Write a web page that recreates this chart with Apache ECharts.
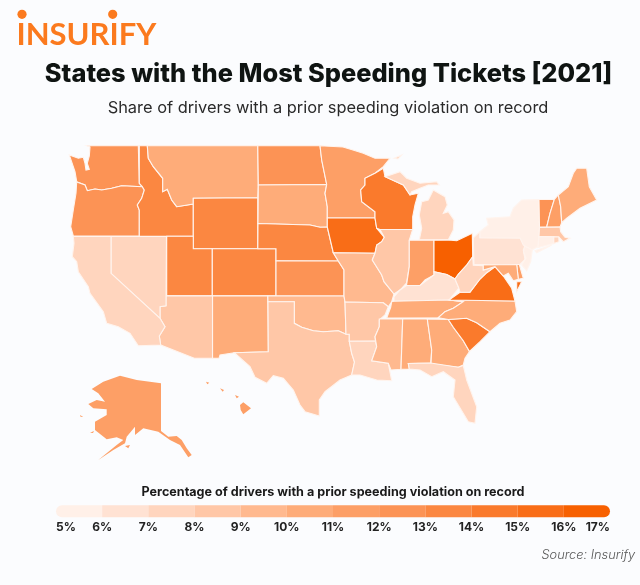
<!DOCTYPE html>
<html><head><meta charset="utf-8">
<style>html,body{margin:0;padding:0;background:#fbfcfe}#c{width:640px;height:585px}</style>
<script src="https://cdn.jsdelivr.net/npm/echarts@6/dist/echarts.min.js"></script>
</head><body><div id="c"></div>
<script>
const stateCodes = ['WA','OR','ID','MT','WY','UT','CO','NM','AZ','NV','CA','ND','SD','NE','KS','OK','TX','MN','IA','MO','AR','LA','WI','IL','MI','IN','OH','KY','TN','MS','AL','GA','FL','SC','NC','VA','WV','PA','NY','VT','NH','ME','MA','CT','RI','NJ','DE','MD','AK','HI'];
const stateValues = [12.5,12.5,13.5,10.5,13.5,13.5,13.5,10.5,8.5,7.5,7.5,12.5,10.5,13.5,12.5,9.5,8.5,11.5,15.5,9.5,8.5,7.5,14.5,8.5,7.5,11.5,16.5,6.5,10.5,9.5,10.5,10.5,7.5,14.5,10.5,15.5,7.5,6.5,5.5,12.5,11.5,10.5,8.5,5.5,7.5,5.5,11.5,10.5,11.5,11.5];
const legendTicks = [5,6,7,8,9,10,11,12,13,14,15,16,17];
const binColors = ['#fff0e8','#ffe2d3','#ffd5be','#ffc7a7','#ffb98f','#feac79','#fd9f66','#fc9355','#fb8741','#fa7a2c','#f96d17','#f76000'];
const borderlessStates = ['AK','HI'];

// state outlines, in map units
const stateShapes = {
WA:[[[86.7,145.7],[138.3,145.7],[139.3,183.3],[142.3,186.7],[121.7,185.7],[111.7,188.3],[101.7,190],[95,189],[87.3,190.7],[85,185],[76.7,181.7],[75,171.7],[69.3,155],[78.3,158.3],[83.3,157.3],[85,163.3],[86,170],[89.3,169.3],[87.3,163.3],[89.3,156],[90,147]]],
OR:[[[76.7,182],[85,185],[87.3,190.7],[95,189],[101.7,190],[111.7,188.3],[121.7,185.7],[142.3,186.7],[144.3,190],[141.7,198.3],[137.3,205],[139.3,210],[139.3,236],[73.3,236],[70.7,226.7],[73.3,210],[76,193.3]]],
ID:[[[139.3,145.7],[147.3,145.7],[148.3,158.3],[153.3,166.7],[162.7,178.3],[162.7,191.7],[167.3,189.3],[171.7,200],[176.7,206.7],[193.3,204],[193.3,236.3],[139.3,236.3],[139.3,210],[137.3,205],[141.7,198.3],[144.3,190],[142.3,186.7],[139.3,183.3]]],
MT:[[[147.3,145.7],[257.8,145.7],[258.3,185],[257.8,197.8],[193.3,198.3],[193.3,204],[176.7,206.7],[171.7,200],[167.3,189.3],[162.7,191.7],[162.7,178.3],[153.3,166.7],[148.3,158.3]]],
WY:[[[193.3,198.3],[257.8,197.8],[257.8,248.7],[193.3,248.7]]],
UT:[[[166.7,236.3],[193.3,236.3],[193.3,248.7],[212.3,248.7],[212.3,295.7],[166.7,295.7]]],
CO:[[[212.3,248.7],[276,248.7],[276,295.7],[212.3,295.7]]],
NM:[[[212.5,296],[267.8,296],[268.3,351.7],[234.3,352.7],[220,355],[219,358.3],[212.5,358.3]]],
AZ:[[[166,295.7],[212.5,296],[212.5,358.3],[194.3,358.3],[160.7,345],[159.3,336],[165,326.7],[160,318.3],[160,306.7],[166,305.7]]],
NV:[[[111,236.5],[166.5,236.5],[166,305.7],[160,306.7],[160,318.3],[111,273.3]]],
CA:[[[73.3,236.5],[111,236.5],[111,273.3],[160,318.3],[165,326.7],[159.3,336],[160.7,345],[138.3,345.7],[130,333.3],[118.3,326.7],[106.7,323.3],[103.3,311.7],[90,293.3],[88.3,286.7],[78.3,271.7],[76.7,261.7],[72.3,256.7],[74,243.3]]],
ND:[[[257.8,145.7],[320,145.7],[321.7,160],[326.7,184.5],[258.3,185]]],
SD:[[[258.3,185],[326.7,184.5],[325,193.3],[327.3,206.7],[327.3,227],[320,227.3],[310,225],[258,223.5]]],
NE:[[[258,223.5],[310,225],[320,227.3],[327.3,227],[333.3,252.7],[338.3,261],[276,260.7],[276,248.7],[257.8,248.7]]],
KS:[[[276,260.7],[338.3,261],[344,270],[344,296],[276,295.7]]],
OK:[[[267.8,296],[344,296],[345,302],[346,334.3],[338.3,330.7],[323.3,331.7],[313.3,330.7],[301.7,327.3],[294.3,323.3],[294.3,301.7],[268,301.7]]],
TX:[[[268,301.7],[294.3,301.7],[294.3,323.3],[301.7,327.3],[313.3,330.7],[323.3,331.7],[338.3,330.7],[346,334.3],[349.3,334.3],[349.3,341.3],[351.7,353.3],[354.5,362],[351.7,375],[340,380],[325,391.7],[319.3,400],[319.3,416],[305,411.7],[300,405],[293.3,390],[283.3,378.3],[273.3,375.7],[266.7,383.3],[255,377.3],[250,366.7],[234.3,352.7],[268.3,351.7]]],
MN:[[[320,145.7],[343,147],[353,150],[363.3,153.3],[375,158.3],[390,158.3],[383.3,166.7],[375,173.3],[365,178.3],[365,185],[360.7,190],[361.7,201.7],[375,211.7],[375,218],[327.3,218],[327.3,206.7],[325,193.3],[326.7,184.5],[321.7,160]]],
IA:[[[327.3,218],[375,218],[376.7,228.3],[384.3,237.3],[381.7,241.7],[376.7,245],[375,253.3],[333.3,252.7],[327.3,227]]],
MO:[[[333.3,252.7],[375,253.3],[372.3,260],[381.7,275],[384,281.7],[394,294],[391.7,301.7],[388.3,306.7],[383.3,302.7],[345,302],[344,296],[344,270],[338.3,261]]],
AR:[[[345,302],[383.3,302.7],[388.3,306.7],[385,315],[379.3,320],[379.3,326.7],[375,336.7],[375.5,341],[349.3,341.3],[349.3,334.3],[346,334.3]]],
LA:[[[349.3,341.3],[375.5,341],[376.7,346.7],[371.7,360.7],[388.3,363.3],[391.7,380.7],[376.7,380],[360,375],[351.7,375],[354.5,362],[351.7,353.3]]],
WI:[[[365,178.3],[375,173.3],[383.3,168.3],[385,176.7],[403.3,185],[410,195],[418.3,193.3],[415,205],[412.7,216.7],[412.7,229.5],[380,229.5],[376.7,228.3],[375,218],[375,211.7],[361.7,201.7],[360.7,190],[365,185]]],
IL:[[[380,229.5],[412.7,229.5],[409.3,240],[409.3,266.7],[406.5,283],[400,290],[394,294],[384,281.7],[381.7,275],[372.3,260],[375,253.3],[376.7,245],[381.7,241.7],[384.3,237.3]]],
MI:[[[385,176.7],[400,171.7],[406.7,178.3],[420,183.3],[436.7,181.7],[439.3,185],[428.3,185],[420,188.3],[411.7,191.7],[410,195],[403.3,185]],[[433.3,190],[445,196.7],[447.3,205],[443.3,213.3],[448.3,211.7],[454,220],[453.3,230],[448.3,239.8],[419.3,239.8],[421.7,228.3],[419.3,215],[421.7,201.7],[428.3,200]],[[394,158.3],[401.7,155],[398,159]]],
IN:[[[409.3,240.3],[434,240.3],[434,275],[425,280],[420,285.5],[406.5,285.5],[409.3,266.7]]],
OH:[[[434,240.3],[448.3,240],[456.7,240.7],[472.3,233.3],[472.7,256.7],[466.7,265],[458.3,274.3],[455,279],[446.7,274.5],[434,271.7]]],
KY:[[[394,297],[400,290],[406.5,285.5],[420,285.5],[434,275],[434,271.7],[446.7,274.5],[455,279],[458.8,288],[449,300],[394,301.2]]],
TN:[[[394,301.2],[449,300],[463.3,301.7],[453.3,308.3],[445,311.7],[438.3,317.7],[386.7,318],[390.7,307.3],[391.7,301.7]]],
MS:[[[379.3,319],[402.7,319],[401,369.3],[391,370],[388.3,363.3],[371.7,360.7],[376.7,346.7],[375,336.7],[379.3,326.7]]],
AL:[[[402.7,319],[427.3,319],[431.7,350],[430.7,363],[408.3,363.5],[409.3,369],[401,369.3]]],
GA:[[[427.3,319],[448.3,319.5],[453.3,327.3],[463.3,340.7],[469.5,351.5],[465,358.3],[463.3,365],[458.3,367.3],[431,364],[431.7,350]]],
FL:[[[408.3,363.5],[430.7,363],[431,364],[458.3,367.3],[463.3,365.5],[466.7,380],[476.7,406.7],[475,423.3],[468.3,421.7],[453.3,396.7],[455,380],[443.3,371.7],[431.7,376.7],[420,370],[409.3,369]]],
SC:[[[448.3,319.5],[466.7,318.3],[476.7,322.7],[490,331.7],[480,341.7],[469.5,351.5],[463.3,340.7],[453.3,327.3]]],
NC:[[[449,300],[515,301],[516.7,311.7],[510,320],[500,323.3],[490,331.7],[476.7,322.7],[466.7,318.3],[448.3,319.5],[438.3,317.7],[445,311.7],[453.3,308.3],[463.3,301.7]]],
VA:[[[449,300],[460,292.2],[470,292.2],[480,279],[486.7,272.7],[495,266.7],[503.3,276],[511.7,288.3],[515,301]],[[516.7,281.7],[521.7,281.7],[516.7,291.7]]],
WV:[[[472.7,256.7],[473.3,265.3],[483.3,265.7],[483.3,270],[495,266.7],[486.7,272.7],[480,279],[470,292.2],[460,292.2],[458.8,288],[455,279],[458.3,274.3],[466.7,265]]],
PA:[[[473.3,237.8],[480,231.7],[480,237.8],[520,238],[526,245],[523.3,250],[525,259.3],[520,264.5],[474,264.5]]],
NY:[[[480,231.7],[488.3,225],[486.7,218.3],[510,216.7],[513.3,208.3],[521.7,200],[539,199.5],[539.5,226.7],[538,246.7],[531.7,250],[523.3,245],[520,238],[480,237.8]],[[535,250.7],[551.7,245],[536.7,252.7]]],
VT:[[[539,199.5],[554.3,199.5],[550,213.3],[546.7,227],[539.5,227]]],
NH:[[[558.3,195],[560.7,206.7],[561.7,222.7],[560,227],[546.7,227],[550,213.3],[554.3,199.5]]],
ME:[[[576.7,168.3],[586.7,168.3],[589.3,186.7],[596.7,200],[580,208.3],[566.7,218.3],[561.7,222.7],[560.7,206.7],[558.3,195],[568.3,186.7],[573.3,173.3]]],
MA:[[[539.5,227.5],[560,227],[560.7,231.7],[565,237.3],[570,238.3],[563.3,241.7],[558.8,237],[539,236.5]]],
CT:[[[539,236.5],[553.8,236.8],[553.8,243.5],[538,247.5]]],
RI:[[[553.8,236.8],[558.8,237],[559,241.7],[553.8,243.5]]],
NJ:[[[524.5,246],[532.3,250],[530.7,261.7],[526.7,270.7],[521.7,265],[526,258.3],[523.5,251.7]]],
DE:[[[516.7,264.5],[519.3,264.5],[523.3,278.3],[518.3,279.3]]],
MD:[[[483.3,265],[516.7,264.5],[518.3,279.3],[513.3,280.7],[508.3,273.3],[503.3,276],[495,266.7],[483.3,270]]],
AK:[[[161,383.3],[161,431],[168.3,436.7],[176.7,436],[181.7,440],[186.7,448.3],[191.7,455],[188.3,457.3],[180,445],[170,440],[158.3,431.7],[143.3,428.3],[135,435],[135,426.7],[126.7,436.7],[125,443.3],[113.3,450],[98.3,460],[116.7,445],[123.3,440],[116.7,437.3],[106.7,439.3],[95,430],[95,421.7],[106.7,415],[106.7,409.3],[93.3,408.3],[88.3,404],[96.7,400],[105,401.7],[98.3,393.3],[91.7,389],[103.3,381.7],[120,375.7],[136.7,380]],[[125,446],[130,445],[128.3,448.3]],[[80,415],[83.3,417],[80.5,416.8]],[[90,432.7],[94,431],[93,433]]],
HI:[[[240,405],[243.3,402.3],[251,408.3],[243.3,414.3],[240.7,410]],[[235,395],[239,396.7],[236.7,398.3]],[[220,388.3],[224,390],[222.7,391.7]],[[206,381.7],[209.3,382.7],[207.3,384.3]]]
};

const features = stateCodes.map(code => ({
  type:'Feature', properties:{name:code},
  geometry:{type:'MultiPolygon', coordinates:stateShapes[code].map(r=>[r])}
}));
echarts.registerMap('us',{type:'FeatureCollection',features});
let xs=[],ys=[];
Object.values(stateShapes).forEach(rs=>rs.forEach(r=>r.forEach(p=>{xs.push(p[0]);ys.push(p[1]);})));
const minX=Math.min(...xs),maxX=Math.max(...xs),minY=Math.min(...ys),maxY=Math.max(...ys);

const FONT='Inter';
const titleText=(text,o)=>Object.assign({text,padding:0,textStyle:Object.assign({fontFamily:FONT},o.style)},o.pos);

const legendSeries=[{type:'bar',stack:'k',data:[legendTicks[0]],barWidth:'100%',silent:true,itemStyle:{color:'transparent'}}]
 .concat(binColors.map((c,i)=>({type:'bar',stack:'k',data:[legendTicks[i+1]-legendTicks[i]],barWidth:'100%',silent:true,
   itemStyle:{color:c,borderRadius:i===0?[6,0,0,6]:i===binColors.length-1?[0,6,6,0]:0}})));

const chart=echarts.init(document.getElementById('c'),null,{renderer:'canvas'});
chart.setOption({
  animation:false,
  backgroundColor:'#fbfcfe',
  title:[
    titleText('INSURIFY',{pos:{left:16.5,top:19.5},style:{fontFamily:'Lato',fontSize:31,fontWeight:700,color:'#fb7a1e'}}),
    titleText('States with the Most Speeding Tickets [2021]',{pos:{left:328.5,textAlign:'center',top:61.5},style:{fontSize:25.4,fontWeight:800,color:'#0f1412'}}),
    titleText('Share of drivers with a prior speeding violation on record',{pos:{left:328,textAlign:'center',top:100},style:{fontSize:16.4,fontWeight:400,color:'#2a2a2a'}}),
    titleText('Percentage of drivers with a prior speeding violation on record',{pos:{left:333,textAlign:'center',top:486},style:{fontSize:12.6,fontWeight:700,color:'#1a1a1a'}}),
    titleText('Source: Insurify',{pos:{right:5,top:548.7},style:{fontSize:12.8,fontWeight:300,fontStyle:'italic',color:'#555'}})
  ],
  graphic:[
    {type:'circle',shape:{cx:22,cy:14.3,r:4.6},style:{fill:'#fb7a1e'}},
    {type:'circle',shape:{cx:112.7,cy:14.3,r:4.6},style:{fill:'#fb7a1e'}}
  ],
  visualMap:{show:false,seriesIndex:0,type:'piecewise',
    pieces:binColors.map((c,i)=>({gte:legendTicks[i],lt:legendTicks[i+1],color:c}))},
  grid:{left:56,top:505.3,width:554,height:12,containLabel:false},
  xAxis:{type:'value',min:5,max:17,interval:1,
    axisLine:{show:false},axisTick:{show:false},splitLine:{show:false},
    axisLabel:{formatter:'{value}%',margin:4,fontFamily:FONT,fontSize:12,fontWeight:700,color:'#222',
      alignMinLabel:'left',alignMaxLabel:'right',showMinLabel:true,showMaxLabel:true}},
  yAxis:{type:'category',data:['share'],show:false},
  series:[{
    type:'map',map:'us',silent:true,
    projection:{project:p=>p,unproject:p=>p},
    left:minX,top:minY,width:maxX-minX,height:maxY-minY,
    label:{show:false},
    itemStyle:{borderColor:'#fff4ee',borderWidth:1.1},
    emphasis:{disabled:true},select:{disabled:true},
    data:stateCodes.map((n,i)=>{
      const d={name:n,value:stateValues[i]};
      if(borderlessStates.includes(n)) d.itemStyle={borderWidth:0};
      return d;
    })
  }].concat(legendSeries)
});
</script></body></html>
